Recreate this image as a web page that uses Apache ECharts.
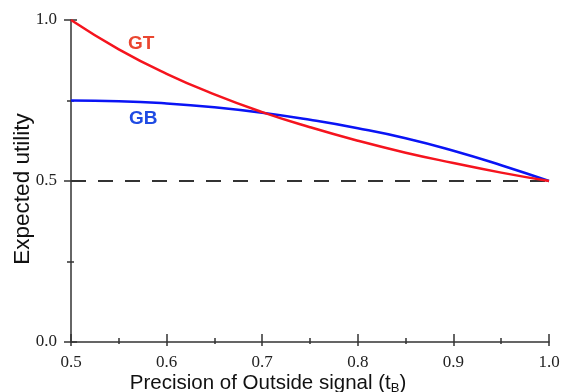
<!DOCTYPE html>
<html>
<head>
<meta charset="utf-8">
<script src="https://cdn.jsdelivr.net/npm/echarts@6/dist/echarts.min.js"></script>
<style>html,body{margin:0;padding:0;background:#fff}#c{width:563px;height:392px}</style>
</head>
<body>
<div id="c"></div>
<script>
const precision = [0.5, 0.55, 0.6, 0.65, 0.7, 0.75, 0.8, 0.85, 0.9, 0.95, 1.0];
const gtValues = [1.0, 0.909, 0.833, 0.769, 0.714, 0.667, 0.625, 0.588, 0.556, 0.526, 0.5];
const gbValues = [0.75, 0.748, 0.741, 0.729, 0.712, 0.690, 0.664, 0.633, 0.594, 0.549, 0.5];
const baseline = 0.5;
const xTickLabels = ['0.5', '0.6', '0.7', '0.8', '0.9', '1.0'];
const yTickLabels = ['0.0', '0.5', '1.0'];
const xTitle = ['Precision of Outside signal (t', 'B', ')'];
const yTitle = 'Expected utility';

const gtData = precision.map((x, i) => [x, gtValues[i]]);
const gbData = precision.map((x, i) => [x, gbValues[i]]);
const axisColor = '#333';
const serif = '"Liberation Serif", "DejaVu Serif", serif';
const sans = '"Liberation Sans", Arial, sans-serif';

const chart = echarts.init(document.getElementById('c'), null, {renderer: 'canvas'});
chart.setOption({
  animation: false,
  backgroundColor: '#fff',
  grid: {left: 71, right: 14, top: 20, bottom: 50, containLabel: false, outerBoundsMode: 'none'},
  xAxis: [{
    type: 'value', min: 0.5, max: 1.0, interval: 0.1,
    axisLine: {show: true, lineStyle: {color: axisColor, width: 1.5}},
    axisTick: {show: true, inside: true, length: 8, lineStyle: {color: axisColor, width: 1.5}},
    minorTick: {show: true, splitNumber: 2, length: 4, lineStyle: {color: axisColor, width: 1.5}},
    splitLine: {show: false},
    axisLabel: {
      show: true, margin: 12, color: '#222', fontFamily: serif, fontSize: 17,
      formatter: v => { const s = v.toFixed(1); return xTickLabels.includes(s) ? s : ''; }
    }
  }, {
    type: 'value', min: 0.5, max: 1.0, interval: 0.1, position: 'bottom', offset: 0,
    axisLine: {show: false},
    axisTick: {show: true, inside: false, length: 4, lineStyle: {color: axisColor, width: 1.5}},
    minorTick: {show: true, splitNumber: 2, length: 2, lineStyle: {color: axisColor, width: 1.5}},
    splitLine: {show: false},
    axisLabel: {show: false}
  }],
  yAxis: [{
    type: 'value', min: 0, max: 1.0, interval: 0.5,
    axisLine: {show: true, lineStyle: {color: axisColor, width: 1.5}},
    axisTick: {show: true, inside: false, length: 7, lineStyle: {color: axisColor, width: 1.5}},
    minorTick: {show: true, splitNumber: 2, length: 4, lineStyle: {color: axisColor, width: 1.5}},
    splitLine: {show: false},
    axisLabel: {
      show: true, margin: 14, color: '#222', fontFamily: serif, fontSize: 17,
      formatter: v => { const s = v.toFixed(1); return yTickLabels.includes(s) ? s : ''; }
    }
  }, {
    type: 'value', min: 0, max: 1.0, interval: 0.5, position: 'left', offset: 0,
    axisLine: {show: false},
    axisTick: {show: true, inside: true, length: 6, lineStyle: {color: axisColor, width: 1.5}},
    minorTick: {show: true, splitNumber: 2, length: 3, lineStyle: {color: axisColor, width: 1.5}},
    splitLine: {show: false},
    axisLabel: {show: false}
  }],
  series: [{
    type: 'line', name: 'baseline',
    data: [[precision[0], baseline], [precision[precision.length - 1], baseline]],
    showSymbol: false, symbol: 'none', z: 1,
    lineStyle: {color: '#333', width: 1.8, type: [15, 12]}
  }, {
    type: 'line', name: 'GB', data: gbData, smooth: true, showSymbol: false, symbol: 'none', z: 2,
    lineStyle: {color: '#0a14f5', width: 2.5}
  }, {
    type: 'line', name: 'GT', data: gtData, smooth: true, showSymbol: false, symbol: 'none', z: 3,
    lineStyle: {color: '#f5141e', width: 2.5}
  }],
  graphic: [{
    type: 'text', left: 128, top: 34,
    style: {text: 'GT', fill: '#ea4630', font: 'bold 19px "Liberation Sans", Arial, sans-serif'}
  }, {
    type: 'text', left: 129, top: 109,
    style: {text: 'GB', fill: '#1f4be3', font: 'bold 19px "Liberation Sans", Arial, sans-serif'}
  }, {
    type: 'text', x: 23, y: 189, rotation: Math.PI / 2,
    style: {
      text: yTitle, fill: '#111', align: 'center', verticalAlign: 'middle',
      font: '22.5px "Liberation Sans", Arial, sans-serif'
    }
  }, {
    type: 'text', x: 268, y: 383,
    style: {
      text: '{a|' + xTitle[0] + '}{s|' + xTitle[1] + '}{a|' + xTitle[2] + '}',
      align: 'center', verticalAlign: 'middle',
      rich: {
        a: {fontFamily: sans, fontSize: 20.5, fill: '#111'},
        s: {fontFamily: sans, fontSize: 13, fill: '#111', padding: [10, 0, 0, 0]}
      }
    }
  }]
});
</script>
</body>
</html>
